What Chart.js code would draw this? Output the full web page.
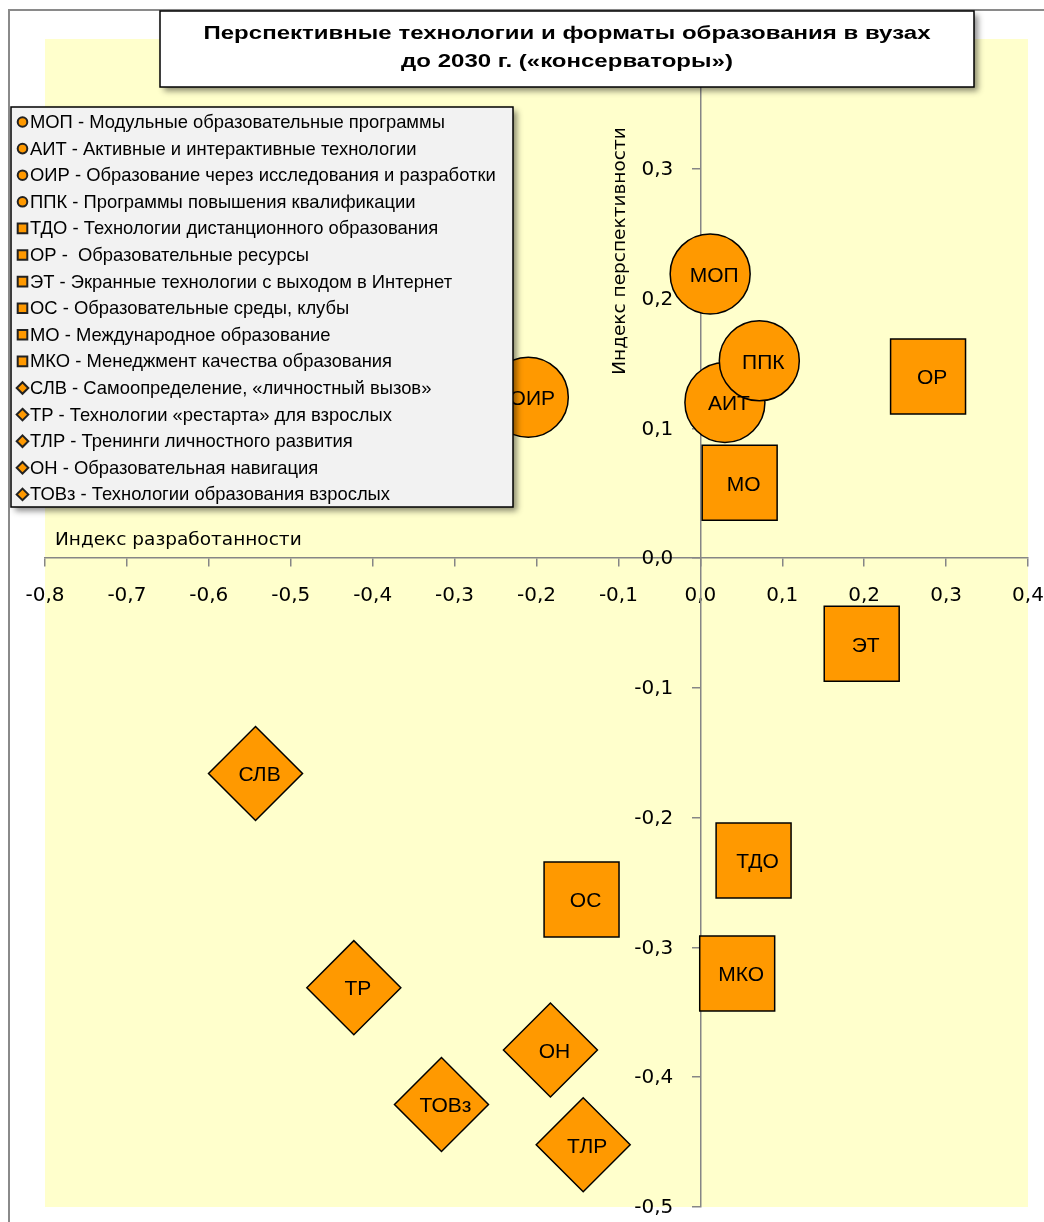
<!DOCTYPE html>
<html>
<head>
<meta charset="utf-8">
<title>Перспективные технологии</title>
<script src="https://cdn.jsdelivr.net/npm/chart.js@4.4.1/dist/chart.umd.min.js"></script>
<style>
	body { margin: 0; background: #fff; }
	#wrap { width: 1044px; height: 1222px; position: relative; }
</style>
</head>
<body>
<div id="wrap"><canvas id="techChart" width="1044" height="1222"></canvas></div>
<script>
// коды технологий, подписи в легенде и координаты (разработанность; перспективность)
var codes = ["МОП", "АИТ", "ОИР", "ППК", "ТДО", "ОР", "ЭТ", "ОС", "МО", "МКО", "СЛВ", "ТР", "ТЛР", "ОН", "ТОВз"];
var names = [
	"МОП - Модульные образовательные программы",
	"АИТ - Активные и интерактивные технологии",
	"ОИР - Образование через исследования и разработки",
	"ППК - Программы повышения квалификации",
	"ТДО - Технологии дистанционного образования",
	"ОР -  Образовательные ресурсы",
	"ЭТ - Экранные технологии с выходом в Интернет",
	"ОС - Образовательные среды, клубы",
	"МО - Международное образование",
	"МКО - Менеджмент качества образования",
	"СЛВ - Самоопределение, «личностный вызов»",
	"ТР - Технологии «рестарта» для взрослых",
	"ТЛР - Тренинги личностного развития",
	"ОН - Образовательная навигация",
	"ТОВз - Технологии образования взрослых"
];
var razrab = [0.012, 0.030, -0.210, 0.072, 0.065, 0.278, 0.197, -0.145, 0.048, 0.045, -0.543, -0.423, -0.143, -0.183, -0.316];
var perspekt = [0.219, 0.120, 0.124, 0.152, -0.233, 0.140, -0.066, -0.263, 0.058, -0.320, -0.166, -0.331, -0.452, -0.379, -0.421];
var groups = ["круг", "круг", "круг", "круг", "квадрат", "квадрат", "квадрат", "квадрат", "квадрат", "квадрат", "ромб", "ромб", "ромб", "ромб", "ромб"];

var xTicks = [-0.8, 0.4, 0.1];
var yTicks = [-0.5, 0.4, 0.1];

var titleLines = ["Перспективные технологии и форматы образования в вузах", "до 2030 г. («консерваторы»)"];
var xTitle = "Индекс разработанности";
var yTitle = "Индекс перспективности";

var ORANGE = "#FF9900";
var shapeStyle = { "круг": ["circle", 40], "квадрат": ["rect", 53], "ромб": ["rectRot", 47] };
var TICK_FONT = "20px 'DejaVu Sans', Verdana, sans-serif";

function fmt(v) {
	return (Math.round(v * 10) / 10).toFixed(1).replace(".", ",");
}

var datasets = [];
for (var i = 0; i < codes.length; i++) {
	var st = shapeStyle[groups[i]];
	datasets.push({
		label: names[i],
		data: [{ x: razrab[i], y: perspekt[i] }],
		pointStyle: st[0],
		pointRadius: st[1],
		pointHoverRadius: st[1],
		backgroundColor: ORANGE,
		borderColor: "#000",
		borderWidth: 1.5,
		order: -i,
		clip: false
	});
}

function shadowBox(ctx, x, y, w, h, fill) {
	ctx.save();
	ctx.shadowColor = "rgba(0,0,0,0.45)";
	ctx.shadowBlur = 6;
	ctx.shadowOffsetX = 4;
	ctx.shadowOffsetY = 4;
	ctx.fillStyle = fill;
	ctx.fillRect(x, y, w, h);
	ctx.restore();
	ctx.strokeStyle = "#000";
	ctx.lineWidth = 1.5;
	ctx.strokeRect(x, y, w, h);
}

function marker(ctx, kind, x, y) {
	ctx.beginPath();
	if (kind == "круг") {
		ctx.arc(x, y, 4.8, 0, Math.PI * 2);
	} else if (kind == "квадрат") {
		ctx.rect(x - 4.8, y - 4.8, 9.6, 9.6);
	} else {
		ctx.moveTo(x, y - 5.8);
		ctx.lineTo(x + 5.8, y);
		ctx.lineTo(x, y + 5.8);
		ctx.lineTo(x - 5.8, y);
		ctx.closePath();
	}
	ctx.fillStyle = ORANGE;
	ctx.fill();
	ctx.lineWidth = 2;
	ctx.strokeStyle = "#222";
	ctx.stroke();
}

// оси пересекаются в нуле, поэтому запас под крайние подписи не нужен
function noEdgePadding(scale) {
	scale.paddingLeft = 0;
	scale.paddingRight = 0;
	scale.paddingTop = 0;
	scale.paddingBottom = 0;
}

var background = {
	id: "background",
	beforeDraw: function(chart) {
		var ctx = chart.ctx, a = chart.chartArea;
		ctx.save();
		ctx.fillStyle = "#fff";
		ctx.fillRect(0, 0, chart.width, chart.height);
		ctx.fillStyle = "#FFFFCC";
		ctx.fillRect(a.left, a.top, a.right - a.left, a.bottom - a.top);
		// рамка области диаграммы
		ctx.strokeStyle = "#8a8a8a";
		ctx.lineWidth = 2;
		ctx.beginPath();
		ctx.moveTo(9, chart.height);
		ctx.lineTo(9, 10);
		ctx.lineTo(chart.width, 10);
		ctx.stroke();
		ctx.restore();
	}
};

var pointLabels = {
	id: "pointLabels",
	afterDatasetsDraw: function(chart) {
		var ctx = chart.ctx;
		ctx.save();
		ctx.font = "21px 'Liberation Sans', Arial, sans-serif";
		ctx.fillStyle = "#000";
		ctx.textAlign = "center";
		ctx.textBaseline = "middle";
		chart.data.datasets.forEach(function(ds, i) {
			var pt = chart.getDatasetMeta(i).data[0];
			ctx.fillText(codes[i], pt.x + 4, pt.y + 2);
		});
		ctx.restore();
	}
};

var overlay = {
	id: "overlay",
	afterDraw: function(chart) {
		var ctx = chart.ctx;
		var xs = chart.scales.x, ys = chart.scales.y;
		var x0 = xs.getPixelForValue(0), y0 = ys.getPixelForValue(0);
		ctx.save();
		ctx.fillStyle = "#000";
		ctx.textBaseline = "middle";

		// подписи делений вертикальной оси, слева от неё
		ctx.font = TICK_FONT;
		ctx.textAlign = "right";
		ys.ticks.forEach(function(t) {
			ctx.fillText(fmt(t.value), x0 - 27, ys.getPixelForValue(t.value) + 1);
		});

		// подписи осей
		ctx.font = "18.5px 'DejaVu Sans', Verdana, sans-serif";
		ctx.textAlign = "left";
		ctx.fillText(xTitle, chart.chartArea.left + 10, y0 - 18);
		ctx.save();
		ctx.translate(x0 - 80, 251);
		ctx.rotate(-Math.PI / 2);
		ctx.textAlign = "center";
		ctx.fillText(yTitle, 0, 0);
		ctx.restore();

		// легенда
		var lx = 11, ly = 107, lw = 502, lh = 400, row = 26.6;
		shadowBox(ctx, lx, ly, lw, lh, "#F2F2F2");
		ctx.font = "18.4px 'Liberation Sans', Arial, sans-serif";
		ctx.textAlign = "left";
		for (var i = 0; i < names.length; i++) {
			var cy = 122 + i * row;
			marker(ctx, groups[i], 22.5, cy);
			ctx.fillStyle = "#000";
			ctx.fillText(names[i], 30, cy + 1);
		}

		// заголовок (растянут по ширине)
		shadowBox(ctx, 160, 11, 814, 76, "#fff");
		ctx.fillStyle = "#000";
		ctx.font = "bold 18px 'Liberation Sans', Arial, sans-serif";
		ctx.textAlign = "center";
		var stretch = 727 / ctx.measureText(titleLines[0]).width;
		ctx.save();
		ctx.translate(567, 0);
		ctx.scale(stretch, 1);
		ctx.fillText(titleLines[0], 0, 34);
		ctx.fillText(titleLines[1], 0, 62);
		ctx.restore();
		ctx.restore();
	}
};

var axisColor = "#868686";
var tickFont = { family: "'DejaVu Sans', Verdana, sans-serif", size: 20 };

new Chart(document.getElementById("techChart"), {
	type: "scatter",
	data: { datasets: datasets },
	options: {
		responsive: false,
		animation: false,
		layout: { autoPadding: false, padding: { left: 45, right: 16, top: 39, bottom: 15 } },
		plugins: {
			legend: { display: false },
			tooltip: { enabled: false },
			title: { display: false }
		},
		scales: {
			x: {
				type: "linear",
				position: { y: 0 },
				min: xTicks[0], max: xTicks[1],
				afterFit: noEdgePadding,
				ticks: {
					stepSize: xTicks[2], autoSkip: false, maxRotation: 0, padding: 18,
					color: "#000", font: tickFont,
					callback: function(v) { return fmt(v); }
				},
				grid: { drawOnChartArea: false, drawTicks: true, tickLength: 8, color: axisColor, lineWidth: 1.5 },
				border: { color: axisColor, width: 1.5 }
			},
			y: {
				type: "linear",
				position: { x: 0 },
				min: yTicks[0], max: yTicks[1],
				afterFit: noEdgePadding,
				ticks: {
					stepSize: yTicks[2], autoSkip: false,
					color: "rgba(0,0,0,0)", font: tickFont,
					callback: function(v) { return fmt(v); }
				},
				grid: { drawOnChartArea: false, drawTicks: true, tickLength: 8, color: axisColor, lineWidth: 1.5 },
				border: { color: axisColor, width: 1.5 }
			}
		}
	},
	plugins: [background, pointLabels, overlay]
});
</script>
</body>
</html>
